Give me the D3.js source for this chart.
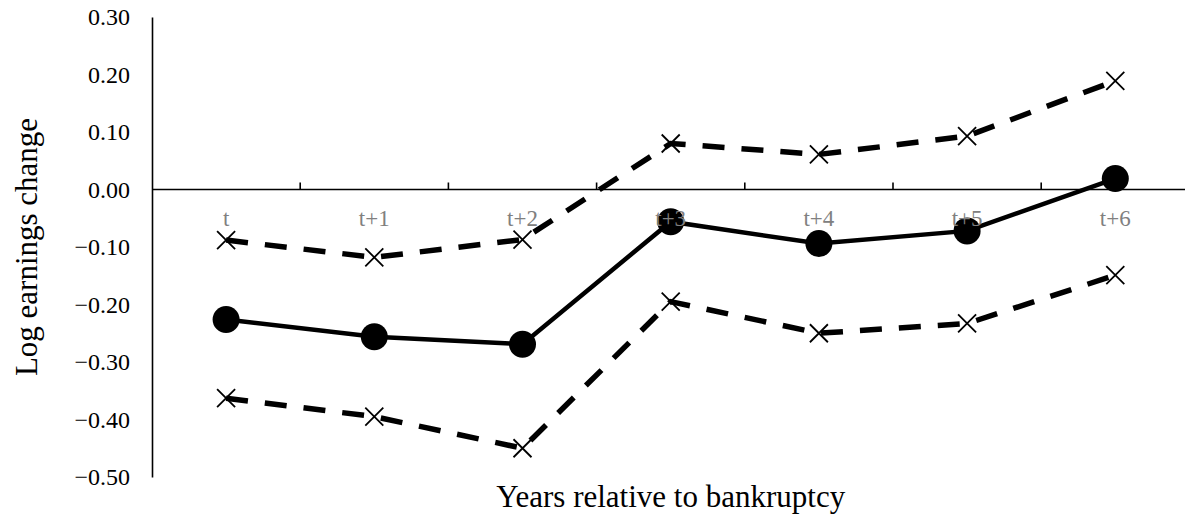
<!DOCTYPE html>
<html>
<head>
<meta charset="utf-8">
<script src="https://cdn.jsdelivr.net/npm/d3@7"></script>
<style>
  html, body { margin: 0; padding: 0; background: #fff; }
  svg { display: block; }
</style>
</head>
<body>
<svg id="chart" width="1185" height="520" font-family="'Liberation Serif', 'Times New Roman', serif"></svg>
<script>
const categories = ["t", "t+1", "t+2", "t+3", "t+4", "t+5", "t+6"];
const meanValues = [-0.226, -0.256, -0.269, -0.056, -0.094, -0.072, 0.019];
const upperValues = [-0.088, -0.118, -0.087, 0.080, 0.061, 0.093, 0.189];
const lowerValues = [-0.363, -0.395, -0.450, -0.195, -0.250, -0.233, -0.149];
const yTicks = [0.3, 0.2, 0.1, 0.0, -0.1, -0.2, -0.3, -0.4, -0.5];
const yTitle = "Log earnings change";
const xTitle = "Years relative to bankruptcy";

const FONT = "'Liberation Serif', 'Times New Roman', serif";
const svg = d3.select("#chart");
const left = 152, bandW = 148.2;
const x = d3.scaleBand().domain(categories).range([left, left + bandW * categories.length]).padding(0);
const y = d3.scaleLinear().domain([-0.5, 0.3]).range([477, 17]);
const cx = c => x(c) + x.bandwidth() / 2;

// Y axis line + labels (no tick marks)
const yAxis = d3.axisLeft(y).tickValues(yTicks).tickSize(0).tickPadding(22).tickFormat(d3.format(".2f"));
const gy = svg.append("g").attr("transform", `translate(${left},0)`).call(yAxis)
  .attr("font-family", FONT).attr("font-size", 24);
gy.select(".domain").attr("stroke", "#000").attr("stroke-width", 1.6);
gy.selectAll("text").attr("font-family", FONT).attr("font-size", 24).attr("fill", "#000");

// X axis at y = 0 with upward ticks at category boundaries
const y0 = y(0);
const gx = svg.append("g");
gx.append("line").attr("x1", left).attr("x2", x.range()[1]).attr("y1", y0).attr("y2", y0)
  .attr("stroke", "#000").attr("stroke-width", 1.6);
gx.selectAll("line.tk").data(categories.slice(1)).join("line").attr("class", "tk")
  .attr("x1", d => x(d)).attr("x2", d => x(d)).attr("y1", y0).attr("y2", y0 - 7)
  .attr("stroke", "#000").attr("stroke-width", 1.6);

// Lines
const line = vals => d3.line().x((d, i) => cx(categories[i])).y(d => y(d))(vals);
svg.append("path").attr("d", line(upperValues)).attr("fill", "none")
  .attr("stroke", "#000").attr("stroke-width", 5.5).attr("stroke-dasharray", "22,17");
svg.append("path").attr("d", line(lowerValues)).attr("fill", "none")
  .attr("stroke", "#000").attr("stroke-width", 5.5).attr("stroke-dasharray", "22,17");
svg.append("path").attr("d", line(meanValues)).attr("fill", "none")
  .attr("stroke", "#000").attr("stroke-width", 4.5);

// Markers
const xMark = "M-9,-9L9,9M-9,9L9,-9";
[upperValues, lowerValues].forEach(vals => {
  svg.append("g").selectAll("path").data(vals).join("path")
    .attr("transform", (d, i) => `translate(${cx(categories[i])},${y(d)})`)
    .attr("d", xMark).attr("stroke", "#000").attr("stroke-width", 1.8).attr("fill", "none");
});
svg.append("g").selectAll("circle").data(meanValues).join("circle")
  .attr("cx", (d, i) => cx(categories[i])).attr("cy", d => y(d)).attr("r", 13.5).attr("fill", "#000");

// Category labels (on top)
svg.append("g").selectAll("text").data(categories).join("text")
  .attr("x", d => cx(d)).attr("y", y0 + 36).attr("text-anchor", "middle")
  .attr("font-family", FONT).attr("font-size", 23).attr("fill", "#808080").text(d => d);

// Titles
svg.append("text").attr("transform", `translate(37,247) rotate(-90)`).attr("text-anchor", "middle")
  .attr("font-family", FONT).attr("font-size", 31).attr("fill", "#000").text(yTitle);
svg.append("text").attr("x", (left + x.range()[1]) / 2).attr("y", 507).attr("text-anchor", "middle")
  .attr("font-family", FONT).attr("font-size", 31).attr("fill", "#000").text(xTitle);
</script>
</body>
</html>
